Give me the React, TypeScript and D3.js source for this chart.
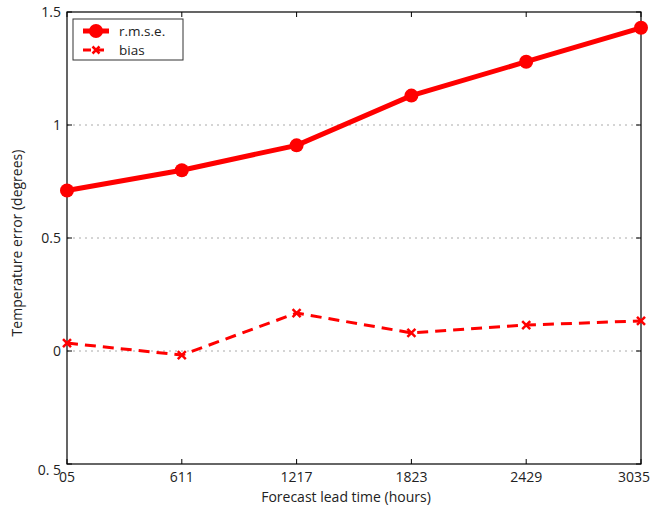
import React from "react";
import * as d3 from "d3";

const categories = ["05", "611", "1217", "1823", "2429", "3035"];
const rmse = [0.71, 0.8, 0.91, 1.13, 1.28, 1.43];
const bias = [0.035, -0.018, 0.168, 0.08, 0.115, 0.133];
const yTicks = [1.5, 1, 0.5, 0, -0.5];
const yTickLabels = ["1.5", "1", "0.5", "0", "0. 5"];
const gridTicks = [1, 0.5, 0];

export default function App() {
  const W = 650, H = 507;
  const left = 67, right = 641, top = 12, bottom = 464;
  const x = d3.scalePoint<string>().domain(categories).range([left, right]);
  const y = d3.scaleLinear().domain([-0.5, 1.5]).range([bottom, top]);
  const line = d3.line<number>().x((_, i) => x(categories[i])!).y((d) => y(d));
  const font = "'Open Sans', 'DejaVu Sans', sans-serif";
  const red = "#ff0000";
  const fs = 14;
  const cross = (cx: number, cy: number, s: number, k: string) => (
    <path key={k} d={`M${cx - s},${cy - s}L${cx + s},${cy + s}M${cx - s},${cy + s}L${cx + s},${cy - s}`} stroke={red} strokeWidth={2.5} />
  );
  return (
    <svg width={W} height={H} style={{ position: "absolute", left: 0, top: 0 }} fontFamily={font}>
      <rect width={W} height={H} fill="#fff" />
      {gridTicks.map((t) => (
        <line key={"g" + t} x1={left} x2={right} y1={y(t)} y2={y(t)} stroke="#aaa" strokeWidth={1} strokeDasharray="2,4" />
      ))}
      {yTicks.map((t, i) => (
        <g key={"y" + t}>
          <line x1={left} x2={left + 5} y1={y(t)} y2={y(t)} stroke="#000" />
          <line x1={right} x2={right - 5} y1={y(t)} y2={y(t)} stroke="#000" />
          <text x={left - 6} y={y(t) + (t === -0.5 ? 11 : 5)} textAnchor="end" fontSize={fs} fill="#222">{yTickLabels[i]}</text>
        </g>
      ))}
      {categories.map((c, i) => (
        <g key={"x" + c}>
          <line x1={x(c)} x2={x(c)} y1={bottom} y2={bottom - 5} stroke="#000" />
          <line x1={x(c)} x2={x(c)} y1={top} y2={top + 5} stroke="#000" />
          <text
            x={i === categories.length - 1 ? 650 : x(c)}
            y={482}
            textAnchor={i === categories.length - 1 ? "end" : "middle"}
            fontSize={fs}
            fill="#222"
          >{c}</text>
        </g>
      ))}
      <rect x={left} y={top} width={right - left} height={bottom - top} fill="none" stroke="#000" strokeWidth={1.2} />
      <path d={line(rmse)!} fill="none" stroke={red} strokeWidth={5} />
      {rmse.map((v, i) => (
        <circle key={"c" + i} cx={x(categories[i])} cy={y(v)} r={7} fill={red} />
      ))}
      <path d={line(bias)!} fill="none" stroke={red} strokeWidth={3} strokeDasharray="11,7" />
      {bias.map((v, i) => cross(x(categories[i])!, y(v), 4, "b" + i))}
      <text x={(left + right) / 2 - 8} y={502} textAnchor="middle" fontSize={fs} fill="#222">Forecast lead time (hours)</text>
      <text transform={`translate(22,243) rotate(-90)`} textAnchor="middle" fontSize={fs} fill="#222">Temperature error (degrees)</text>
      <g>
        <rect x={73} y={19} width={110} height={41} fill="#fff" stroke="#333" strokeWidth={1} />
        <line x1={83} x2={109} y1={31} y2={31} stroke={red} strokeWidth={5} />
        <circle cx={96} cy={31} r={7} fill={red} />
        <text x={119} y={36} fontSize={13.5} fill="#222">r.m.s.e.</text>
        <line x1={83} x2={109} y1={50} y2={50} stroke={red} strokeWidth={3} strokeDasharray="8,5" />
        {cross(96, 50, 3.5, "lb")}
        <text x={119} y={55} fontSize={13.5} fill="#222">bias</text>
      </g>
    </svg>
  );
}
